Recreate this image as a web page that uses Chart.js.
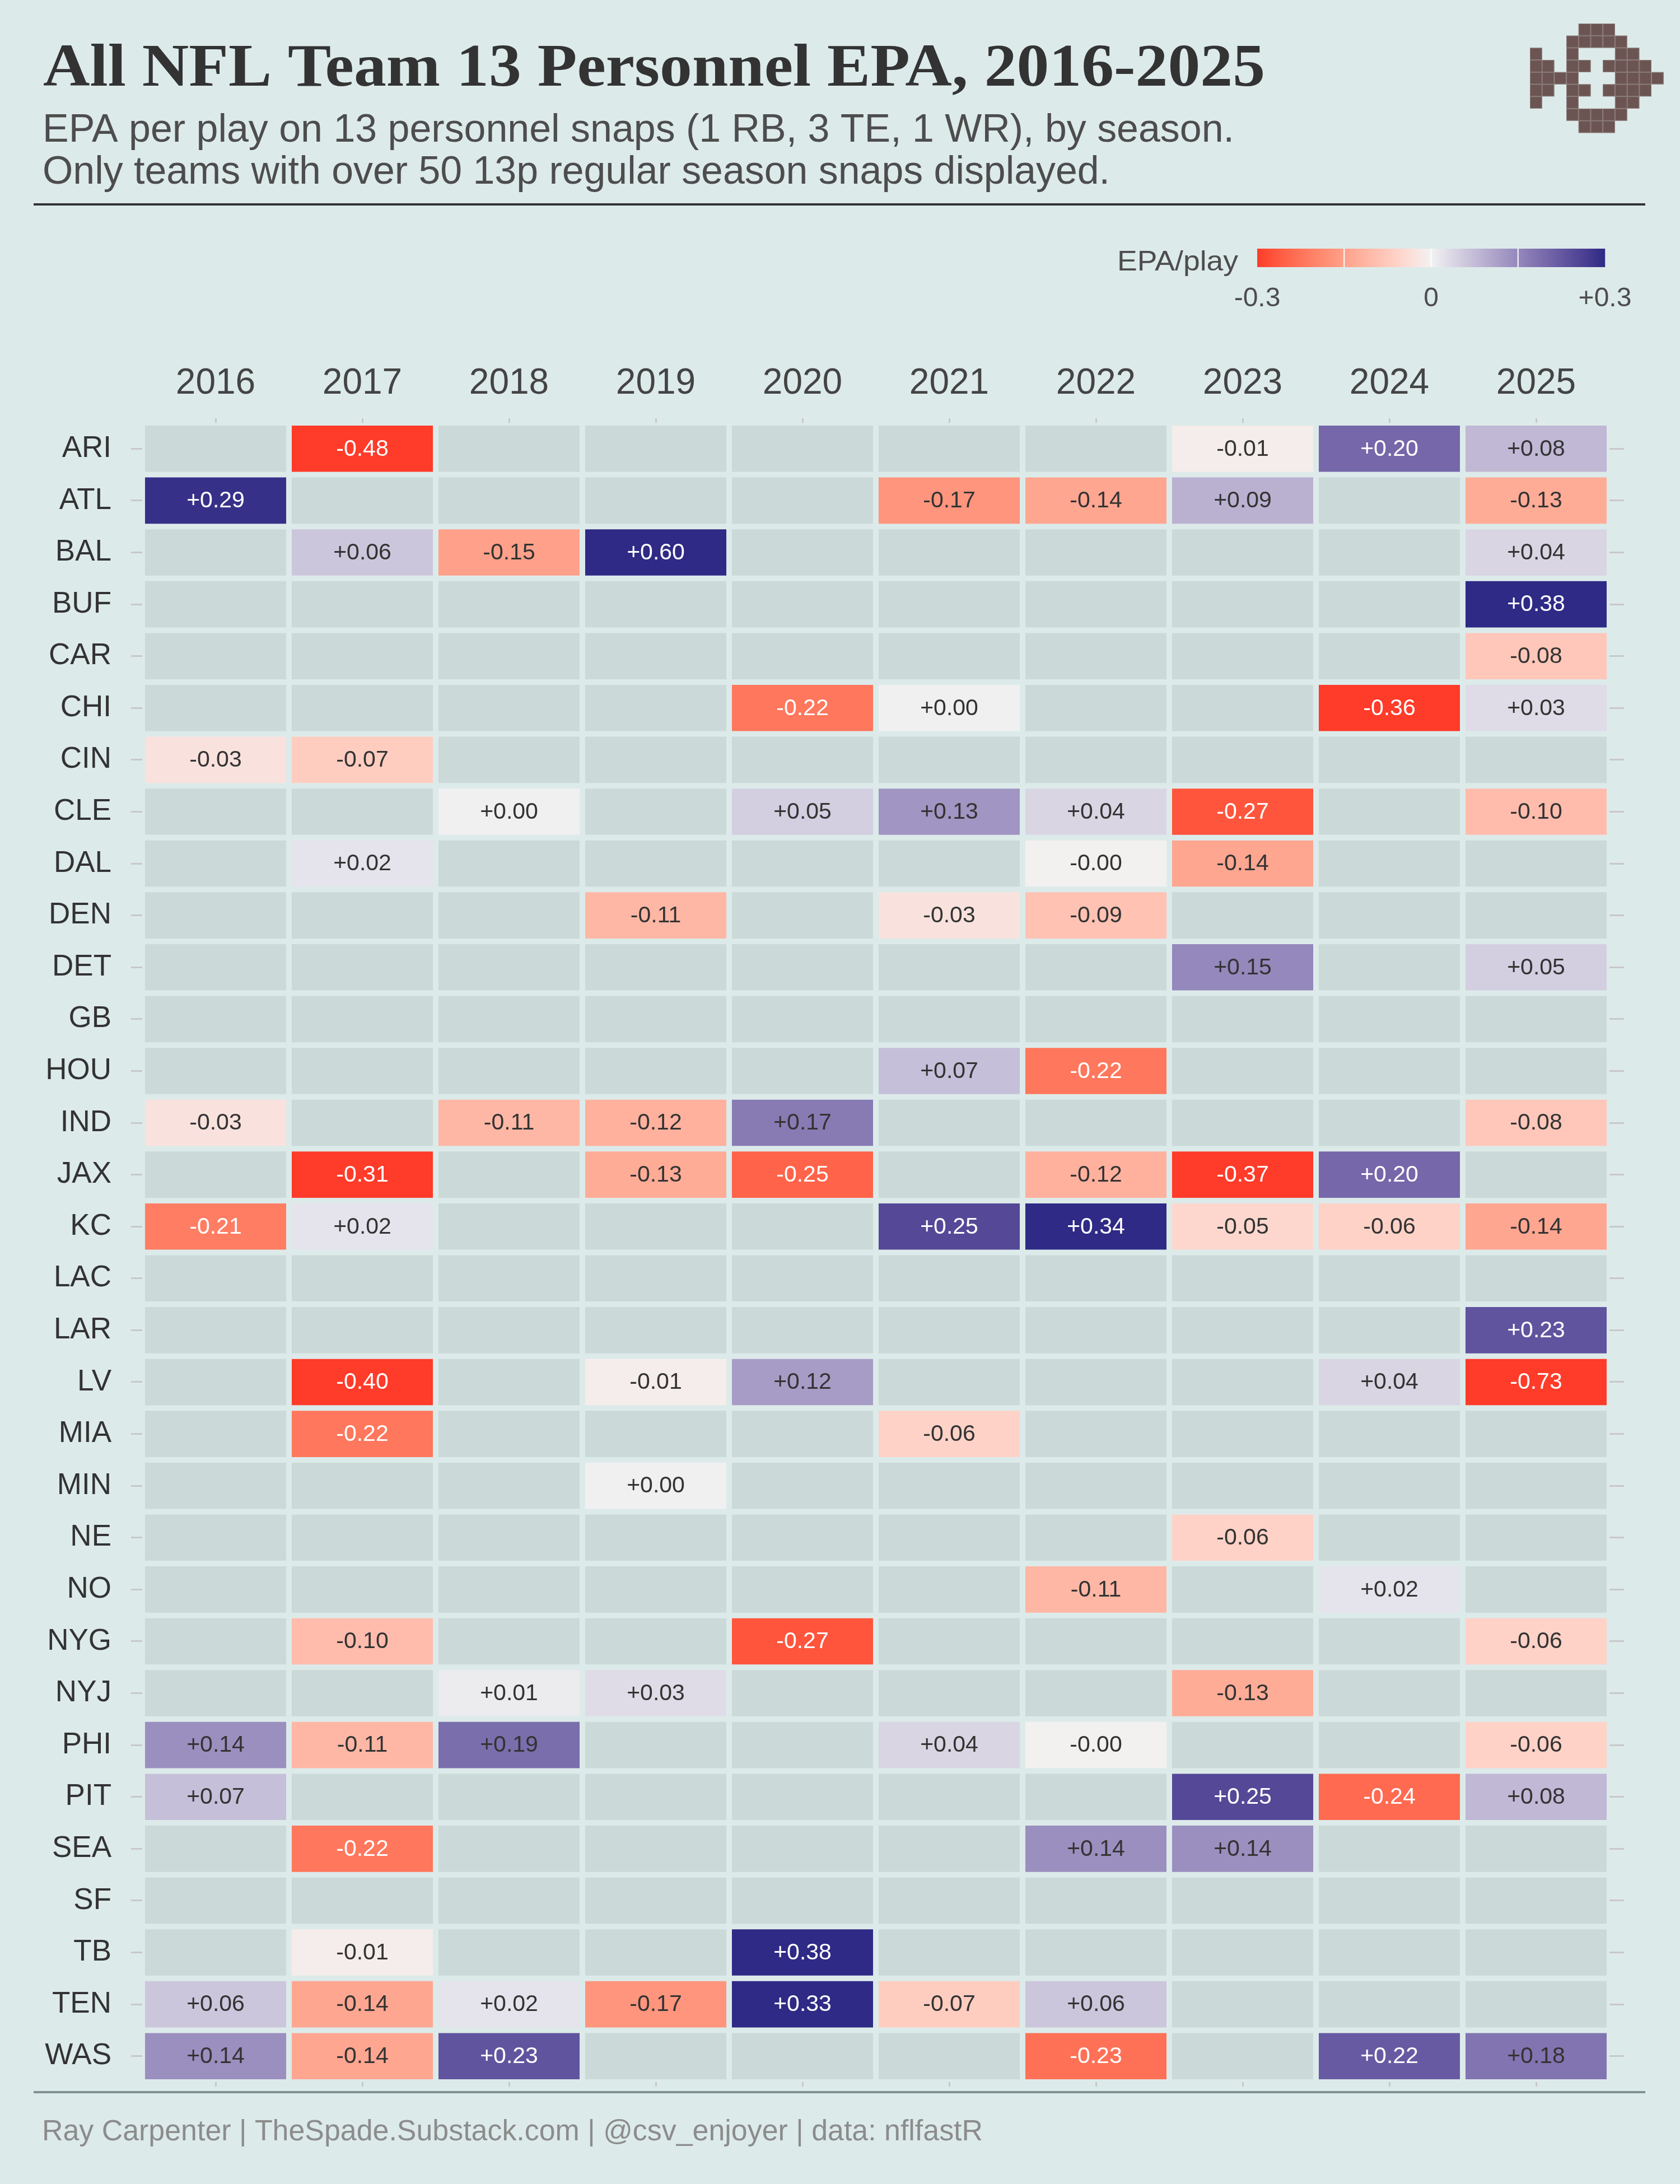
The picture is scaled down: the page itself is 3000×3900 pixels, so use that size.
<!DOCTYPE html>
<html>
<head>
<meta charset="utf-8">
<script src="https://cdn.jsdelivr.net/npm/chart.js@4.4.1/dist/chart.umd.min.js"></script>
<style>
  html, body { margin: 0; padding: 0; background: #ddeaea; }
  canvas { display: block; }
</style>
</head>
<body>
<canvas id="heat" width="3000" height="3900"></canvas>
<script>
// 13 personnel EPA/play heatmap, one array per season in team order
const _ = null;
const teams = ['ARI', 'ATL', 'BAL', 'BUF', 'CAR', 'CHI', 'CIN', 'CLE', 'DAL', 'DEN', 'DET', 'GB',
  'HOU', 'IND', 'JAX', 'KC', 'LAC', 'LAR', 'LV', 'MIA', 'MIN', 'NE', 'NO', 'NYG', 'NYJ', 'PHI',
  'PIT', 'SEA', 'SF', 'TB', 'TEN', 'WAS'];
const seasons = ['2016', '2017', '2018', '2019', '2020', '2021', '2022', '2023', '2024', '2025'];

const s2016 = [_, .29, _, _, _, _, -.03, _, _, _, _, _, _, -.03, _, -.21, _, _, _, _, _, _, _, _, _, .14, .07, _, _, _, .06, .14];
const s2017 = [-.48, _, .06, _, _, _, -.07, _, .02, _, _, _, _, _, -.31, .02, _, _, -.40, -.22, _, _, _, -.10, _, -.11, _, -.22, _, -.01, -.14, -.14];
const s2018 = [_, _, -.15, _, _, _, _, .003, _, _, _, _, _, -.11, _, _, _, _, _, _, _, _, _, _, .01, .19, _, _, _, _, .02, .23];
const s2019 = [_, _, .60, _, _, _, _, _, _, -.11, _, _, _, -.12, -.13, _, _, _, -.01, _, .003, _, _, _, .03, _, _, _, _, _, -.17, _];
const s2020 = [_, _, _, _, _, -.22, _, .05, _, _, _, _, _, .17, -.25, _, _, _, .12, _, _, _, _, -.27, _, _, _, _, _, .38, .33, _];
const s2021 = [_, -.17, _, _, _, .003, _, .13, _, -.03, _, _, .07, _, _, .25, _, _, _, -.06, _, _, _, _, _, .04, _, _, _, _, -.07, _];
const s2022 = [_, -.14, _, _, _, _, _, .04, -.003, -.09, _, _, -.22, _, -.12, .34, _, _, _, _, _, _, -.11, _, _, -.003, _, .14, _, _, .06, -.23];
const s2023 = [-.01, .09, _, _, _, _, _, -.27, -.14, _, .15, _, _, _, -.37, -.05, _, _, _, _, _, -.06, _, _, -.13, _, .25, .14, _, _, _, _];
const s2024 = [.20, _, _, _, _, -.36, _, _, _, _, _, _, _, _, .20, -.06, _, _, .04, _, _, _, .02, _, _, _, -.24, _, _, _, _, .22];
const s2025 = [.08, -.13, .04, .38, -.08, .03, _, -.10, _, _, .05, _, _, -.08, _, -.14, _, .23, -.73, _, _, _, _, -.06, _, -.06, .08, _, _, _, _, .18];
const epaBySeason = [s2016, s2017, s2018, s2019, s2020, s2021, s2022, s2023, s2024, s2025];

const legendValues = [-0.3, 0, 0.3];
const legendLabels = ['-0.3', '0', '+0.3'];

const FONT = '"Liberation Sans", Arial, sans-serif';
const emptyFill = '#ccd9d9';
const LOW = '#ff3b29', MID = '#f2f2f2', HIGH = '#2e2a85';
const LIMIT = 0.3;

// colour scale (gradient2 style, interpolated in Lab)
function hexToRgb(h) { const n = parseInt(h.slice(1), 16); return [n >> 16 & 255, n >> 8 & 255, n & 255]; }
function toLinear(c) { c /= 255; return c <= 0.04045 ? c / 12.92 : Math.pow((c + 0.055) / 1.055, 2.4); }
function fromLinear(c) {
  const v = c <= 0.0031308 ? 12.92 * c : 1.055 * Math.pow(c, 1 / 2.4) - 0.055;
  return Math.round(Math.max(0, Math.min(1, v)) * 255);
}
function rgbToLab(rgb) {
  const R = toLinear(rgb[0]), G = toLinear(rgb[1]), B = toLinear(rgb[2]);
  const f = t => t > 0.008856 ? Math.cbrt(t) : 7.787 * t + 16 / 116;
  const x = f((R * 0.4124 + G * 0.3576 + B * 0.1805) / 0.95047);
  const y = f(R * 0.2126 + G * 0.7152 + B * 0.0722);
  const z = f((R * 0.0193 + G * 0.1192 + B * 0.9505) / 1.08883);
  return [116 * y - 16, 500 * (x - y), 200 * (y - z)];
}
function labToRgb(lab) {
  const y0 = (lab[0] + 16) / 116, x0 = lab[1] / 500 + y0, z0 = y0 - lab[2] / 200;
  const fi = t => t * t * t > 0.008856 ? t * t * t : (t - 16 / 116) / 7.787;
  const x = fi(x0) * 0.95047, y = fi(y0), z = fi(z0) * 1.08883;
  return [
    fromLinear(x * 3.2406 - y * 1.5372 - z * 0.4986),
    fromLinear(-x * 0.9689 + y * 1.8758 + z * 0.0415),
    fromLinear(x * 0.0557 - y * 0.2040 + z * 1.0570)
  ];
}
const labLow = rgbToLab(hexToRgb(LOW)), labMid = rgbToLab(hexToRgb(MID)), labHigh = rgbToLab(hexToRgb(HIGH));
function epaColor(v) {
  const t = Math.max(-1, Math.min(1, v / LIMIT));
  const end = t < 0 ? labLow : labHigh;
  const k = Math.abs(t);
  const c = labToRgb(labMid.map((m, i) => m + (end[i] - m) * k));
  return `rgb(${c[0]},${c[1]},${c[2]})`;
}
const fmt = v => (v < 0 ? '-' : '+') + Math.abs(v).toFixed(2);

// pixel logo, top right
const logoRows = [
  '....XXX....',
  '...XXXXX...',
  'X..X...XX..',
  'XX.XX.XXXX.',
  'XXXX...XXXX',
  'XX.XX.XXXX.',
  'X..X...XX..',
  '...XXXXX...',
  '....XXX....'
];

function fitText(ctx, text, x, y, font, color, width) {
  ctx.save();
  ctx.font = font;
  ctx.fillStyle = color;
  ctx.textAlign = 'left';
  ctx.textBaseline = 'alphabetic';
  const w = ctx.measureText(text).width;
  const k = width ? width / w : 1;
  ctx.translate(x, y);
  ctx.scale(k, 1);
  ctx.fillText(text, 0, 0);
  ctx.restore();
}

const decor = {
  id: 'decor',
  beforeDraw(chart) {
    const ctx = chart.ctx;
    ctx.save();
    ctx.fillStyle = '#ddeaea';
    ctx.fillRect(0, 0, chart.width, chart.height);
    ctx.restore();
  },
  afterDatasetsDraw(chart) {
    const ctx = chart.ctx;
    ctx.save();
    ctx.font = '41px ' + FONT;
    ctx.textAlign = 'center';
    ctx.textBaseline = 'middle';
    epaBySeason.forEach((vals, j) => {
      chart.getDatasetMeta(j).data.forEach((bar, i) => {
        const v = vals[i];
        if (v === null) return;
        const p = bar.getProps(['x', 'y', 'base'], true);
        ctx.fillStyle = Math.abs(v) >= 0.195 ? '#ffffff' : '#333333';
        ctx.fillText(fmt(v), (p.x + p.base) / 2, p.y + 1);
      });
    });
    ctx.restore();
  },
  afterDraw(chart) {
    const ctx = chart.ctx;
    // header
    fitText(ctx, 'All NFL Team 13 Personnel EPA, 2016-2025', 77, 153,
      'bold 107px "Liberation Serif", serif', '#333333', 2182);
    fitText(ctx, 'EPA per play on 13 personnel snaps (1 RB, 3 TE, 1 WR), by season.', 76, 253,
      '70px ' + FONT, '#4d4d4d', 2128);
    fitText(ctx, 'Only teams with over 50 13p regular season snaps displayed.', 76, 328,
      '70px ' + FONT, '#4d4d4d', 1906);
    ctx.save();
    ctx.fillStyle = '#333333';
    ctx.fillRect(60, 363, 2878, 4);
    ctx.fillStyle = '#7f9190';
    ctx.fillRect(60, 3734, 2878, 4);
    ctx.restore();

    // colour bar legend
    const bx0 = 2245, bx1 = 2866, by0 = 444, by1 = 477;
    ctx.save();
    for (let px = bx0; px < bx1; px++) {
      const v = -LIMIT + (px + 0.5 - bx0) / (bx1 - bx0) * 2 * LIMIT;
      ctx.fillStyle = epaColor(v);
      ctx.fillRect(px, by0, 1.2, by1 - by0);
    }
    ctx.fillStyle = '#ffffff';
    [-0.15, 0, 0.15].forEach(v => {
      const px = bx0 + (v + LIMIT) / (2 * LIMIT) * (bx1 - bx0);
      ctx.fillRect(px - 1, by0, 2, by1 - by0);
    });
    ctx.fillStyle = '#4d4d4d';
    ctx.font = '48px ' + FONT;
    ctx.textAlign = 'center';
    ctx.textBaseline = 'alphabetic';
    legendValues.forEach((v, i) => {
      const px = bx0 + (v + LIMIT) / (2 * LIMIT) * (bx1 - bx0);
      ctx.fillText(legendLabels[i], px, 547);
    });
    ctx.restore();
    fitText(ctx, 'EPA/play', 1995, 483, '50px ' + FONT, '#4d4d4d', 216);

    // footer
    fitText(ctx, 'Ray Carpenter | TheSpade.Substack.com | @csv_enjoyer | data: nflfastR', 75, 3822,
      '51px ' + FONT, '#8c8c8c', 1680);

    // logo
    const lx = 2732, ly = 42, cs = 21.7;
    ctx.save();
    ctx.fillStyle = '#6b5451';
    ctx.strokeStyle = '#8f8280';
    ctx.lineWidth = 1;
    logoRows.forEach((row, r) => {
      [...row].forEach((ch, c) => {
        if (ch !== 'X') return;
        ctx.fillRect(lx + c * cs, ly + r * cs, cs, cs);
        ctx.strokeRect(lx + c * cs + 0.5, ly + r * cs + 0.5, cs - 1, cs - 1);
      });
    });
    ctx.restore();
  }
};

const cellInset = 0.019;
const datasets = seasons.map((season, j) => ({
  label: season,
  data: teams.map(() => [j + cellInset, j + 1 - cellInset]),
  backgroundColor: c => {
    const v = epaBySeason[j][c.dataIndex];
    return v === null ? emptyFill : epaColor(v);
  },
  borderWidth: 0,
  grouped: false,
  categoryPercentage: 1,
  barPercentage: 0.892
}));

const seasonTicks = s => { s.ticks = seasons.map((y, j) => ({ value: j + 0.5 })); };
const tickGrid = len => ({
  offset: false, drawOnChartArea: false, drawTicks: true, tickLength: len, color: '#c8c8c8', lineWidth: 3
});

new Chart(document.getElementById('heat'), {
  type: 'bar',
  data: { labels: teams, datasets: datasets },
  options: {
    indexAxis: 'y',
    responsive: false,
    animation: false,
    devicePixelRatio: 1,
    layout: { padding: { top: 560, bottom: 100, left: 0, right: 0 } },
    plugins: { legend: { display: false }, tooltip: { enabled: false }, title: { display: false } },
    scales: {
      x: {
        type: 'linear', position: 'top', min: 0, max: 10,
        afterBuildTicks: seasonTicks,
        afterFit: s => { s.height = 195; },
        ticks: {
          autoSkip: false, maxRotation: 0, padding: 23, color: '#444444',
          font: { family: FONT, size: 64 },
          callback: (v, i) => seasons[i]
        },
        grid: tickGrid(8),
        border: { display: false }
      },
      x2: {
        type: 'linear', position: 'bottom', min: 0, max: 10,
        afterBuildTicks: seasonTicks,
        afterFit: s => { s.height = 82; },
        ticks: { autoSkip: false, maxRotation: 0, callback: () => '' },
        grid: tickGrid(8),
        border: { display: false }
      },
      y: {
        type: 'category', position: 'left', offset: true,
        afterFit: s => { s.width = 254; },
        ticks: { padding: 35, color: '#333333', font: { family: FONT, size: 53 } },
        grid: tickGrid(20),
        border: { display: false }
      },
      y2: {
        type: 'category', labels: teams, position: 'right', offset: true,
        afterFit: s => { s.width = 126; },
        ticks: { callback: () => '' },
        grid: tickGrid(26),
        border: { display: false }
      }
    }
  },
  plugins: [decor]
});
</script>
</body>
</html>
